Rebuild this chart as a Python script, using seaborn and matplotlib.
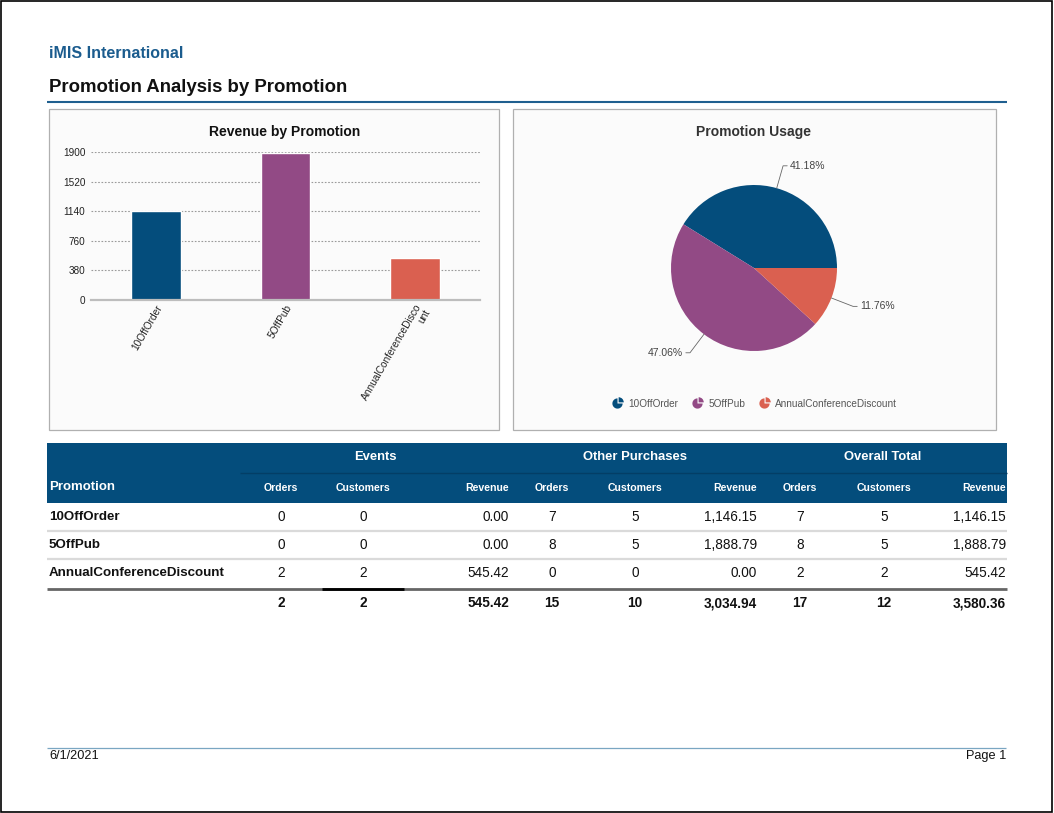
import numpy as np
import matplotlib
matplotlib.use("Agg")
import matplotlib.pyplot as plt
import seaborn as sns
from matplotlib.patches import Rectangle
from matplotlib.lines import Line2D
from matplotlib.path import Path
from matplotlib.transforms import Affine2D

# ---------------- data ----------------
promotions = ["10OffOrder", "5OffPub", "AnnualConferenceDiscount"]
events_orders = [0, 0, 2]
events_customers = [0, 0, 2]
events_revenue = [0.00, 0.00, 545.42]
other_orders = [7, 8, 0]
other_customers = [5, 5, 0]
other_revenue = [1146.15, 1888.79, 0.00]
total_orders = [7, 8, 2]
total_customers = [5, 5, 2]
total_revenue = [1146.15, 1888.79, 545.42]
y_ticks = [0, 380, 760, 1140, 1520, 1900]
colors = ["#044D7C", "#924A85", "#DA6050"]

# ---------------- setup ----------------
sns.set_style("white")
plt.rcParams["font.family"] = ["Liberation Sans", "DejaVu Sans"]

W, H = 1054, 813
fig = plt.figure(figsize=(W / 100, H / 100), dpi=100)
fig.patch.set_facecolor("white")


def fx(px):
    return px / W


def fy(py):
    return 1 - py / H


def hline(x0, x1, y, color, lw, z=2):
    fig.add_artist(Line2D([fx(x0), fx(x1)], [fy(y), fy(y)], transform=fig.transFigure,
                          color=color, linewidth=lw, zorder=z, solid_capstyle="butt"))


def rect(x0, y0, x1, y1, fc, ec="none", lw=0, z=0):
    fig.add_artist(Rectangle((fx(x0), fy(y1)), fx(x1) - fx(x0), fy(y0) - fy(y1),
                             transform=fig.transFigure, facecolor=fc, edgecolor=ec,
                             linewidth=lw, zorder=z))


# page border
fig.add_artist(Rectangle((0.0005, 0.0008), 0.998, 0.998, transform=fig.transFigure,
                         fill=False, edgecolor="black", linewidth=1.2, zorder=10))

# header
fig.text(fx(49), fy(54), "iMIS International", fontsize=11.5, fontweight="bold",
         color="#1B5C8E", ha="left", va="center")
fig.text(fx(49), fy(87), "Promotion Analysis by Promotion", fontsize=13.4, fontweight="bold",
         color="#111111", ha="left", va="center")
hline(47, 1007, 102.5, "#1F5F8F", 1.5)

# panels
rect(49, 109, 499, 430, "#FBFBFB", "#B0B0B0", 0.9)
rect(513, 109, 996, 430, "#FBFBFB", "#B0B0B0", 0.9)

# ---------------- bar chart ----------------
fig.text(fx(285), fy(132), "Revenue by Promotion", fontsize=10, fontweight="bold",
         color="#111111", ha="center", va="center")
ax = fig.add_axes([fx(91), fy(300), fx(480) - fx(91), fy(152) - fy(300)])
ax.set_facecolor("none")
sns.barplot(x=promotions, y=total_revenue, hue=promotions, palette=colors, width=0.385,
            saturation=1, legend=False, ax=ax, zorder=3)
ax.set_xlim(-0.5, len(promotions) - 0.5)
ax.set_ylim(y_ticks[0], y_ticks[-1])
ax.set_yticks(y_ticks)
ax.set_yticklabels([str(t) for t in y_ticks], fontsize=7.2, color="#222222")
ax.yaxis.grid(True, linestyle=(0, (1.5, 1.5)), color="#9A9A9A", linewidth=0.8, zorder=0)
ax.xaxis.grid(False)
for s in ["left", "right", "top"]:
    ax.spines[s].set_visible(False)
ax.spines["bottom"].set_color("#BDBDBD")
ax.spines["bottom"].set_linewidth(1.6)
ax.spines["bottom"].set_zorder(4)
ax.tick_params(axis="both", length=0, pad=4)
ax.set_xlabel("")
ax.set_ylabel("")


def wrap(name, n=21):
    return "\n".join(name[i:i + n] for i in range(0, len(name), n))


ax.set_xticks(range(len(promotions)))
ax.set_xticklabels([wrap(p) for p in promotions], rotation=60, ha="right", va="top",
                   rotation_mode="anchor", fontsize=7.3, color="#222222",
                   multialignment="right", linespacing=1.0)
ax.tick_params(axis="x", pad=2)

# ---------------- pie chart ----------------
fig.text(fx(754), fy(132), "Promotion Usage", fontsize=10, fontweight="bold",
         color="#333333", ha="center", va="center")
R = 83.0
cx, cy = 754, 268
L, Rr, T, B = 520, 990, 150, 390
pax = fig.add_axes([fx(L), fy(B), fx(Rr) - fx(L), fy(T) - fy(B)])
pax.set_facecolor("none")
wedges, _ = pax.pie(total_orders, colors=colors, startangle=0, counterclock=True, radius=1,
                    wedgeprops=dict(linewidth=0))
pax.set_xlim(-(cx - L) / R, (Rr - cx) / R)
pax.set_ylim(-(B - cy) / R, (cy - T) / R)
pax.set_aspect("auto")
pax.axis("off")

tot = float(sum(total_orders))
for w, v in zip(wedges, total_orders):
    th = np.deg2rad((w.theta1 + w.theta2) / 2)
    c, s = np.cos(th), np.sin(th)
    x0, y0 = c * 1.0, s * 1.0
    x1, y1 = c * 1.28, s * 1.28
    side = 1 if c >= 0 else -1
    x2 = x1 + side * 0.05
    pax.plot([x0, x1, x2], [y0, y1, y1], color="#666666", linewidth=0.6, clip_on=False)
    pax.text(x2 + side * 0.03, y1, f"{v / tot * 100:.2f}%", fontsize=7.5, color="#444444",
             ha="left" if side > 0 else "right", va="center", clip_on=False)

# legend with pie-shaped icons
icon = Path.make_compound_path(
    Path.wedge(90, 360),
    Affine2D().translate(0.22, 0.22).transform_path(Path.wedge(0, 90)),
)
handles = [Line2D([], [], linestyle="none", marker=icon, markersize=9,
                  markerfacecolor=col, markeredgecolor=col, markeredgewidth=0)
           for col in colors]
fig.legend(handles, promotions, loc="center", bbox_to_anchor=(fx(755), fy(404)), ncol=3,
           frameon=False, fontsize=7.2, labelcolor="#555555", handlelength=0.9,
           handletextpad=0.7, columnspacing=1.4)

# ---------------- table ----------------
rect(47, 443, 1007, 503, "#044D7C", z=1)
hline(240, 1007, 473.5, "#033E66", 1.0)

fig.text(fx(49), fy(487), "Promotion", fontsize=9.5, fontweight="bold", color="white",
         ha="left", va="center")
groups = ["Events", "Other Purchases", "Overall Total"]
group_centers = [375, 635, 883]
for g, gx in zip(groups, group_centers):
    fig.text(fx(gx), fy(457), g, fontsize=9.4, fontweight="bold", color="white",
             ha="center", va="center")

order_x = [281, 552, 800]
cust_x = [363, 635, 884]
rev_x = [509, 757, 1006]
for i in range(3):
    fig.text(fx(order_x[i]), fy(488), "Orders", fontsize=7.6, fontweight="bold",
             color="white", ha="center", va="center")
    fig.text(fx(cust_x[i]), fy(488), "Customers", fontsize=7.6, fontweight="bold",
             color="white", ha="center", va="center")
    fig.text(fx(rev_x[i]), fy(488), "Revenue", fontsize=7.6, fontweight="bold",
             color="white", ha="right", va="center")

row_y = [517, 545, 573]
groups_data = [
    (events_orders, events_customers, events_revenue),
    (other_orders, other_customers, other_revenue),
    (total_orders, total_customers, total_revenue),
]
for r, name in enumerate(promotions):
    y = row_y[r]
    fig.text(fx(49), fy(y), name, fontsize=9.6, fontweight="bold", color="#111111",
             ha="left", va="center")
    for gi, (o, c, rv) in enumerate(groups_data):
        fig.text(fx(order_x[gi]), fy(y), f"{o[r]}", fontsize=9.8, color="#111111",
                 ha="center", va="center")
        fig.text(fx(cust_x[gi]), fy(y), f"{c[r]}", fontsize=9.8, color="#111111",
                 ha="center", va="center")
        fig.text(fx(rev_x[gi]), fy(y), f"{rv[r]:,.2f}", fontsize=9.8, color="#111111",
                 ha="right", va="center")

hline(47, 1007, 531, "#DADADA", 1.6)
hline(47, 1007, 559, "#DADADA", 1.6)
hline(47, 1007, 589, "#666666", 2.0)
hline(322, 404, 589, "#000000", 2.0, z=3)

ty = 603
for gi, (o, c, rv) in enumerate(groups_data):
    fig.text(fx(order_x[gi]), fy(ty), f"{sum(o)}", fontsize=9.8, fontweight="bold",
             color="#111111", ha="center", va="center")
    fig.text(fx(cust_x[gi]), fy(ty), f"{sum(c)}", fontsize=9.8, fontweight="bold",
             color="#111111", ha="center", va="center")
    fig.text(fx(rev_x[gi]), fy(ty), f"{sum(rv):,.2f}", fontsize=9.8, fontweight="bold",
             color="#111111", ha="right", va="center")

# ---------------- footer ----------------
hline(47, 1006, 748, "#7AA6C2", 0.9)
fig.text(fx(49), fy(756), "6/1/2021", fontsize=9.2, color="#111111", ha="left", va="center")
fig.text(fx(1006), fy(756), "Page 1", fontsize=9.2, color="#111111", ha="right", va="center")

fig.savefig("out.png", dpi=100)
